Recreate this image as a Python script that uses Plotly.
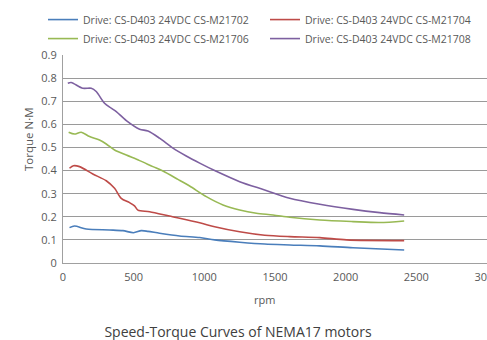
import plotly.graph_objects as go

# Data
names = [
    "Drive: CS-D403 24VDC CS-M21702",
    "Drive: CS-D403 24VDC CS-M21704",
    "Drive: CS-D403 24VDC CS-M21706",
    "Drive: CS-D403 24VDC CS-M21708",
]

rpm_m21702 = [46, 81, 164, 329, 424, 499, 554, 601, 683, 825, 967, 1073, 1250, 1427, 1604, 1817, 2052, 2414]
tq_m21702 = [0.153, 0.160, 0.147, 0.143, 0.140, 0.131, 0.140, 0.137, 0.129, 0.117, 0.110, 0.100, 0.090, 0.082, 0.078, 0.074, 0.066, 0.056]

rpm_m21704 = [46, 74, 117, 211, 306, 365, 412, 471, 506, 530, 613, 754, 967, 1073, 1250, 1427, 1604, 1817, 2006, 2414]
tq_m21704 = [0.410, 0.421, 0.417, 0.385, 0.356, 0.323, 0.280, 0.261, 0.247, 0.229, 0.222, 0.203, 0.174, 0.157, 0.135, 0.120, 0.114, 0.110, 0.100, 0.097]

rpm_m21706 = [40, 81, 129, 188, 258, 306, 365, 448, 542, 636, 707, 813, 896, 1014, 1132, 1250, 1368, 1486, 1604, 1817, 2052, 2241, 2414]
tq_m21706 = [0.566, 0.558, 0.566, 0.547, 0.532, 0.515, 0.489, 0.467, 0.443, 0.417, 0.398, 0.362, 0.333, 0.287, 0.251, 0.229, 0.215, 0.208, 0.198, 0.186, 0.179, 0.175, 0.182]

rpm_m21708 = [34, 58, 140, 200, 235, 294, 341, 377, 448, 542, 601, 683, 778, 872, 967, 1073, 1250, 1427, 1604, 1817, 2052, 2241, 2414]
tq_m21708 = [0.778, 0.781, 0.756, 0.756, 0.742, 0.691, 0.670, 0.655, 0.616, 0.579, 0.571, 0.540, 0.497, 0.463, 0.432, 0.400, 0.352, 0.316, 0.280, 0.254, 0.232, 0.218, 0.208]

x_ticks = [0, 500, 1000, 1500, 2000, 2500, 3000]
y_ticks = [0, 0.1, 0.2, 0.3, 0.4, 0.5, 0.6, 0.7, 0.8, 0.9]
y_tick_labels = ["0", "0.1", "0.2", "0.3", "0.4", "0.5", "0.6", "0.7", "0.8", "0.9"]

colors = ["#4A7EBB", "#BE4B48", "#98B954", "#7D60A0"]
series = [
    (rpm_m21702, tq_m21702),
    (rpm_m21704, tq_m21704),
    (rpm_m21706, tq_m21706),
    (rpm_m21708, tq_m21708),
]

FONT = "Open Sans"
TXT = "#595959"

fig = go.Figure()
for name, (xs, ys), c in zip(names, series, colors):
    fig.add_trace(go.Scatter(
        x=xs, y=ys, name=name, mode="lines",
        line=dict(color=c, width=1.6, shape="spline", smoothing=0.8),
    ))

fig.update_layout(
    width=487, height=340,
    paper_bgcolor="white", plot_bgcolor="white",
    margin=dict(l=63, r=0, t=55, b=77),
    font=dict(family=FONT, color=TXT, size=10),
    showlegend=True,
    legend=dict(
        orientation="h", x=-0.0354, xanchor="left", y=1.24, yanchor="top",
        entrywidth=177, entrywidthmode="pixels", itemwidth=30,
        font=dict(size=10.5, color=TXT, family=FONT),
        bgcolor="rgba(0,0,0,0)", tracegroupgap=0,
    ),
    title=dict(
        text="Speed-Torque Curves of NEMA17 motors",
        x=(238 - 63) / 424, xanchor="center", y=1 - 332 / 340, yanchor="middle",
        xref="paper", yref="container",
        font=dict(size=14, color="#404040", family=FONT),
    ),
    xaxis=dict(
        range=[0, 3000], tickvals=x_ticks, ticktext=[str(v) for v in x_ticks],
        showgrid=False, zeroline=False, showline=True, linecolor="#A0A0A0", linewidth=1,
        ticks="", tickfont=dict(size=11, color=TXT), ticklabeloverflow="allow",
        ticklabelstandoff=4,
        automargin=False,
    ),
    yaxis=dict(
        range=[0, 0.9], tickvals=y_ticks, ticktext=y_tick_labels,
        showgrid=True, gridcolor="#9A9A9A", gridwidth=1, zeroline=False,
        showline=True, linecolor="#A0A0A0", linewidth=1,
        ticks="", tickfont=dict(size=11, color=TXT),
        ticklabelstandoff=3,
        automargin=False,
    ),
    annotations=[
        dict(text="rpm", xref="paper", yref="paper", x=(264 - 63) / 424, y=(263 - 299) / 208,
             xanchor="center", yanchor="middle", showarrow=False,
             font=dict(size=11, color=TXT, family=FONT)),
        dict(text="Torque N·M", xref="paper", yref="paper", x=(28 - 63) / 424, y=(263 - 139) / 208,
             xanchor="center", yanchor="middle", showarrow=False, textangle=-90,
             font=dict(size=11.5, color=TXT, family=FONT)),
    ],
)

fig.write_html(
    "out.html",
    config={"displayModeBar": False},
    post_script="document.body.style.margin='0';document.body.style.overflow='hidden';",
)
